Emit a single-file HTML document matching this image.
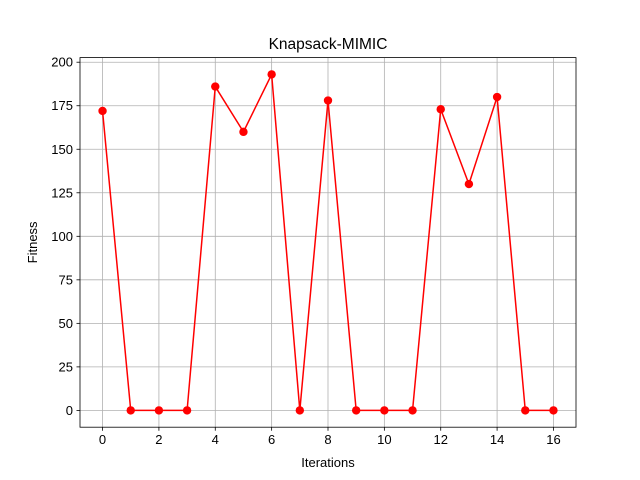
<!DOCTYPE html>
<html><head><meta charset="utf-8"><style>body{margin:0;background:#fff}svg{display:block;font-family:"Liberation Sans","DejaVu Sans",sans-serif}</style></head>
<body>
<svg id="chart" width="640" height="480"></svg>
<script>
const iterations = [0,1,2,3,4,5,6,7,8,9,10,11,12,13,14,15,16];
const fitness = [172,0,0,0,186,160,193,0,178,0,0,0,173,130,180,0,0];
const xTicks = [0,2,4,6,8,10,12,14,16];
const yTicks = [0,25,50,75,100,125,150,175,200];
const L=80,R=576,T=57.6,B=427.2;
const xmin=-0.8,xmax=16.8,ymin=-9.65,ymax=202.65;
const sx=v=>L+(v-xmin)/(xmax-xmin)*(R-L);
const sy=v=>B-(v-ymin)/(ymax-ymin)*(B-T);
const svg=document.getElementById('chart');
const NS='http://www.w3.org/2000/svg';
function mk(t,a,txt){const e=document.createElementNS(NS,t);for(const k in a)e.setAttribute(k,a[k]);if(txt!==undefined)e.textContent=txt;svg.appendChild(e);return e;}
xTicks.forEach(v=>{const x=sx(v);
const g=mk('line',{x1:x,x2:x,y1:T,y2:B,stroke:'#b0b0b0','stroke-width':0.8});


const t=mk('line',{x1:x,x2:x,y1:B,y2:B+3.5,stroke:'#000','stroke-width':0.8});


const l=mk('text',{x:x,y:B+17,'font-size':13,'text-anchor':'middle'},v);

});
yTicks.forEach(v=>{const y=sy(v);
const g=mk('line',{x1:L,x2:R,y1:y,y2:y,stroke:'#b0b0b0','stroke-width':0.8});


const t=mk('line',{x1:L-3.5,x2:L,y1:y,y2:y,stroke:'#000','stroke-width':0.8});


const l=mk('text',{x:L-7,y:y+4.5,'font-size':13,'text-anchor':'end'},v);

});
const pts=iterations.map((v,i)=>sx(v)+','+sy(fitness[i])).join(' ');
const line=mk('polyline',{points:pts,fill:'none',stroke:'#ff0000','stroke-width':1.5});


iterations.forEach((v,i)=>{const c=mk('circle',{cx:sx(v),cy:sy(fitness[i]),r:4.2,fill:'#ff0000'});

});
const f=mk('rect',{x:L,y:T,width:R-L,height:B-T,fill:'none',stroke:'#000','stroke-width':0.8});


const ti=mk('text',{x:(L+R)/2,y:49,'font-size':15.5,'text-anchor':'middle'},'Knapsack-MIMIC');


const xl=mk('text',{x:(L+R)/2,y:467,'font-size':13,'text-anchor':'middle'},'Iterations');


const yl=mk('text',{x:37,y:(T+B)/2,'font-size':13,'text-anchor':'middle',transform:'rotate(-90 37 '+((T+B)/2)+')'},'Fitness');


</script>
</body></html>
